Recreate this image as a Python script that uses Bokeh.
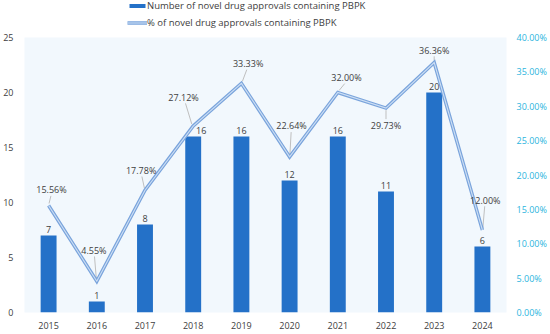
from bokeh.plotting import figure
from bokeh.layouts import column
from bokeh.models import (Range1d, LinearAxis, FixedTicker, ColumnDataSource,
                          Legend, LegendItem)
from bokeh.embed import file_html
from bokeh.resources import INLINE
from bokeh.core.properties import value

# ---- data ----
years = ["2015", "2016", "2017", "2018", "2019", "2020", "2021", "2022", "2023", "2024"]
approvals = [7, 1, 8, 16, 16, 12, 16, 11, 20, 6]
pct = [15.56, 4.55, 17.78, 27.12, 33.33, 22.64, 32.00, 29.73, 36.36, 12.00]
pct_labels = ["15.56%", "4.55%", "17.78%", "27.12%", "33.33%", "22.64%",
              "32.00%", "29.73%", "36.36%", "12.00%"]
left_ticks = [0, 5, 10, 15, 20, 25]
right_ticks = [0, 5, 10, 15, 20, 25, 30, 35, 40]
right_tick_labels = ["0.00%", "5.00%", "10.00%", "15.00%", "20.00%", "25.00%",
                     "30.00%", "35.00%", "40.00%"]
series_names = ["Number of novel drug approvals containing PBPK",
                "% of novel drug approvals containing PBPK"]

# ---- label layout (placement only) ----
pct_label_dx = [0.06, -0.06, -0.08, -0.20, 0.14, 0.04, 0.18, 0.0, 0.0, 0.06]
pct_label_dy = [2.3, 4.5, 2.9, 4.2, 2.9, 4.5, 2.2, -2.5, 1.8, 4.35]
bar_label_dx = [0, 0, 0, 8, 0, 0, 0, 0, 0, 0]

FONT = value("Open Sans")
BAR_COLOR = "#2471c8"
LINE_OUT, LINE_IN = "#7aa4dc", "#cddff4"
FRAME_W, FRAME_H = 482, 275
xs = list(range(len(years)))

src = ColumnDataSource(dict(
    x=xs, n=approvals, nlab=[str(v) for v in approvals], bdx=bar_label_dx,
    pct=pct, plab=pct_labels,
    lx=[x + d for x, d in zip(xs, pct_label_dx)],
    ly=[p_ + d for p_, d in zip(pct, pct_label_dy)],
    sx0=[x + d * 0.15 for x, d in zip(xs, pct_label_dx)],
    sy0=[p_ + (0.3 if d > 0 else -0.3) for p_, d in zip(pct, pct_label_dy)],
    sx1=[x + d * 0.8 for x, d in zip(xs, pct_label_dx)],
    sy1=[p_ + d - (0.9 if d > 0 else -0.9) for p_, d in zip(pct, pct_label_dy)],
))

# ---------- legend strip ----------
lg = figure(width=534, height=30, output_backend="svg", toolbar_location=None,
            x_range=Range1d(0, 1), y_range=Range1d(0, 1), min_border=0,
            outline_line_color=None, background_fill_color="white",
            border_fill_color="white")
lg.axis.visible = False
lg.grid.visible = False
# off-screen sample glyphs, only used as legend keys
lbar = lg.vbar(x=[-50], bottom=[-50], top=[-49], width=0.5, fill_color=BAR_COLOR,
               line_color=None)
lout = lg.line(x=[-50, -49], y=[-50, -50], line_color=LINE_OUT, line_width=3.5)
lin = lg.line(x=[-50, -49], y=[-50, -50], line_color=LINE_IN, line_width=1.1)
legend = Legend(items=[
    LegendItem(label=series_names[0], renderers=[lbar]),
    LegendItem(label=series_names[1], renderers=[lout, lin]),
], location=(103, 1), orientation="vertical", border_line_color=None,
    background_fill_alpha=0, glyph_width=20, glyph_height=5, label_height=11,
    label_text_font="Open Sans", label_text_font_size="9.5px",
    label_text_color="#404040", label_standoff=0, spacing=4, padding=1, margin=0)
lg.add_layout(legend, "center")

# ---------- main chart ----------
p = figure(frame_width=FRAME_W, frame_height=FRAME_H, output_backend="svg",
           toolbar_location=None,
           x_range=Range1d(-0.5, len(years) - 0.5), y_range=Range1d(0, 25),
           background_fill_color="#f2f8fd", border_fill_color="white",
           outline_line_color=None, min_border_left=18, min_border_right=34,
           min_border_top=7, min_border_bottom=14)
p.xgrid.visible = False
p.ygrid.visible = False

p.xaxis.ticker = FixedTicker(ticks=xs)
p.xaxis.major_label_overrides = {i: y for i, y in enumerate(years)}
p.yaxis.ticker = FixedTicker(ticks=left_ticks)
for ax in (p.xaxis[0], p.yaxis[0]):
    ax.axis_line_color = None
    ax.major_tick_line_color = None
    ax.minor_tick_line_color = None
    ax.major_label_text_font = "Open Sans"
    ax.major_label_text_font_size = "9px"
    ax.major_label_text_color = "#404040"
    ax.major_label_standoff = 3
p.yaxis.major_label_standoff = 5

p.extra_y_ranges = {"pct": Range1d(0, 40)}
right = LinearAxis(y_range_name="pct", ticker=FixedTicker(ticks=right_ticks),
                   major_label_overrides={t: l for t, l in zip(right_ticks, right_tick_labels)},
                   axis_line_color=None, major_tick_line_color=None,
                   minor_tick_line_color=None, major_label_text_font="Open Sans",
                   major_label_text_font_size="9px", major_label_text_color="#2cb5de",
                   major_label_standoff=4)
p.add_layout(right, "right")

p.vbar(x="x", top="n", width=0.33, source=src, fill_color=BAR_COLOR, line_color=None)
p.text(x="x", y="n", text="nlab", x_offset="bdx", y_offset=-3, source=src,
       text_align="center", text_baseline="bottom", text_font=FONT,
       text_font_size="9px", text_color="#404040")

p.segment(x0="sx0", y0="sy0", x1="sx1", y1="sy1", source=src, y_range_name="pct",
          line_color="#bfbfbf", line_width=1)
p.line(x="x", y="pct", source=src, y_range_name="pct", line_color=LINE_OUT,
       line_width=3.5, line_join="miter")
p.line(x="x", y="pct", source=src, y_range_name="pct", line_color=LINE_IN,
       line_width=1.1, line_join="miter")
p.text(x="lx", y="ly", text="plab", source=src, y_range_name="pct",
       text_align="center", text_baseline="middle", text_font=FONT,
       text_font_size="9px", text_color="#404040")

layout = column(lg, p, spacing=0)
open("out.html", "w").write(file_html(layout, INLINE))
